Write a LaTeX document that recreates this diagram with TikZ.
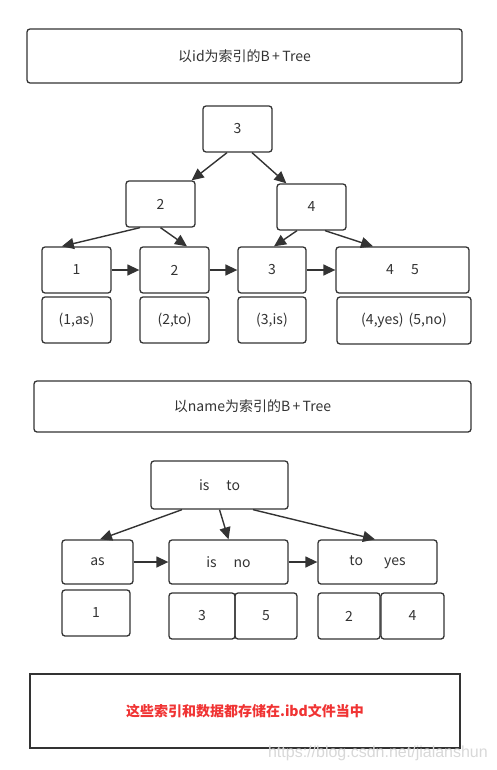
\documentclass[tikz,border=0pt]{standalone}
\usepackage{fontspec}
\setmainfont{Noto Sans CJK SC}
\newfontfamily\wmfont{Liberation Sans}
\usetikzlibrary{arrows.meta,calc}
\definecolor{ink}{HTML}{333333}
\definecolor{redtxt}{HTML}{F03333}
\definecolor{wm}{HTML}{D8D8D8}
\begin{document}
\begin{tikzpicture}[x=1pt,y=-1pt,
  box/.style={draw=ink,line width=1.3pt,rounded corners=3pt,inner sep=0pt,
    text=ink,font=\fontsize{14}{16}\selectfont},
  arr/.style={draw=ink,line width=1.4pt,-{Triangle[length=12pt,width=11pt]}}]
\useasboundingbox (0,0) rectangle (497,770);
% ---------- tree by id ----------
\node[box,minimum width=435,minimum height=54] (t1) at (244.5,56) {以id为索引的B\,+\,Tree};
\node[box,minimum width=69,minimum height=46] (r) at (237.5,129) {3};
\node[box,minimum width=69,minimum height=46] (a2) at (160.5,204) {2};
\node[box,minimum width=69,minimum height=46] (a4) at (311.5,207) {4};
\node[box,minimum width=69,minimum height=46] (l1) at (76.5,270) {1};
\node[box,minimum width=69,minimum height=46] (l2) at (174.5,270) {2};
\node[box,minimum width=68,minimum height=46] (l3) at (272,270) {3};
\node[box,minimum width=133,minimum height=46] (l45) at (402.5,270) {4\hspace{17pt}5};
\node[box,minimum width=69,minimum height=46] (d1) at (76.5,320) {(1,as)};
\node[box,minimum width=69,minimum height=46] (d2) at (174.5,320) {(2,to)};
\node[box,minimum width=68,minimum height=46] (d3) at (272,320) {(3,is)};
\node[box,minimum width=134,minimum height=47] (d45) at (404,320.5) {(4,yes)\hspace{5pt}(5,no)};
\draw[arr] ([xshift=-10.5pt]r.south) -- ([xshift=-4pt]a2.north east);
\draw[arr] ([xshift=14.5pt]r.south) -- ([xshift=10pt]a4.north west);
\draw[arr] ([xshift=-20.5pt]a2.south) -- ([xshift=20.5pt]l1.north west);
\draw[arr] (a2.south) -- ([xshift=12.5pt]l2.north);
\draw[arr] ([xshift=-14.5pt]a4.south) -- ([xshift=2pt]l3.north);
\draw[arr] ([xshift=13.5pt]a4.south) -- ([xshift=-29.5pt]l45.north);
\draw[arr] (l1.east) -- (l2.west);
\draw[arr] (l2.east) -- (l3.west);
\draw[arr] (l3.east) -- (l45.west);
% ---------- tree by name ----------
\node[box,minimum width=437,minimum height=51] (t2) at (252.5,406.5) {以name为索引的B\,+\,Tree};
\node[box,minimum width=137,minimum height=48] (r2) at (219.5,485) {is\hspace{17pt}to};
\node[box,minimum width=71,minimum height=44] (b1) at (97.5,562) {as};
\node[box,minimum width=119,minimum height=44] (b2) at (228.5,562) {is\hspace{17pt}no};
\node[box,minimum width=119,minimum height=44] (b3) at (377.5,562) {to\hspace{21pt}yes};
\node[box,minimum width=68,minimum height=46] (e1) at (96,613) {1};
\node[box,minimum width=66,minimum height=46] (e3) at (202,616) {3};
\node[box,minimum width=62,minimum height=46] (e5) at (266,616) {5};
\node[box,minimum width=62,minimum height=46] (e2) at (349,616) {2};
\node[box,minimum width=63,minimum height=46] (e4) at (412.5,616) {4};
\draw[arr] ([xshift=-37.5pt]r2.south) -- ([xshift=2.5pt]b1.north);
\draw[arr] (r2.south) -- (b2.north);
\draw[arr] ([xshift=33.5pt]r2.south) -- ([xshift=-2.5pt]b3.north);
\draw[arr] (b1.east) -- (b2.west);
\draw[arr] (b2.east) -- (b3.west);
% ---------- note ----------
\node[draw=ink,line width=1.5pt,inner sep=0pt,minimum width=430,minimum height=74,
  text=redtxt,font=\fontsize{14}{16}\selectfont\bfseries] (note) at (245,711)
  {这些索引和数据都存储在.ibd文件当中};
\node[anchor=base east,text=wm,font=\wmfont\fontsize{16}{18}\selectfont,inner sep=0pt]
  (wmk) at (488,757) {https://blog.csdn.net/jialanshun};
\end{tikzpicture}
\end{document}
